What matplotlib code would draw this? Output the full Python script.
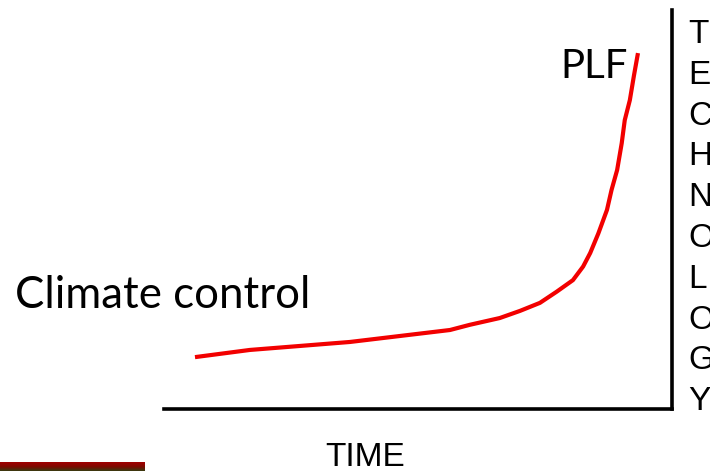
import matplotlib
matplotlib.use("Agg")
import matplotlib.pyplot as plt
import numpy as np
from matplotlib.colors import LinearSegmentedColormap

# curve (time vs. technology, 0-100 scale)
time_vals = [6.1, 16.9, 36.6, 56.3, 60.2, 66.1, 70.1, 74.0, 77.3, 80.5, 82.5, 83.9,
             85.5, 87.2, 88.1, 89.2, 90.1, 90.7, 91.7, 92.5, 93.3]
tech_vals = [13.0, 14.8, 16.8, 19.8, 21.1, 22.8, 24.6, 26.6, 29.4, 32.3, 35.7, 39.1,
             44.0, 49.9, 54.9, 59.9, 66.6, 72.4, 77.4, 83.5, 89.2]
side_letters = list("TECHNOLOGY")

W, H = 710, 471
fig = plt.figure(figsize=(W / 100, H / 100), dpi=100)


def fx(px):
    return px / W


def fy(py):
    return 1 - py / H


ax = fig.add_axes([fx(164), fy(409), (672 - 164) / W, (409 - 10) / H])
ax.plot(time_vals, tech_vals, color="#f20000", linewidth=3,
        solid_capstyle="butt", solid_joinstyle="round")
ax.set_xlim(0, 100)
ax.set_ylim(0, 100)
ax.set_xticks([])
ax.set_yticks([])
for side in ["left", "top"]:
    ax.spines[side].set_visible(False)
for side in ["bottom", "right"]:
    ax.spines[side].set_linewidth(2.6)
    ax.spines[side].set_color("black")
    ax.spines[side].set_capstyle("projecting")

calibri_like = ["Lato", "DejaVu Sans"]
arial_like = ["Liberation Sans", "DejaVu Sans"]

fig.text(fx(15), fy(308), "Climate control", family=calibri_like, fontsize=31.5,
         va="baseline", ha="left")
fig.text(fx(560), fy(78), "PLF", family=calibri_like, fontsize=29,
         va="baseline", ha="left")
fig.text(fx(325), fy(466), "TIME", family=arial_like, fontsize=24,
         va="baseline", ha="left")

for i, letter in enumerate(side_letters):
    fig.text(fx(688), fy(43 + 40.8 * i), letter, family=arial_like, fontsize=24,
             va="baseline", ha="left")

# decorative bar bottom-left
bar_ax = fig.add_axes([0, 0, 145 / W, 9 / H])
cmap = LinearSegmentedColormap.from_list("bar", ["#a00000", "#800800", "#3a3a10"])
bar_ax.imshow(np.linspace(0, 1, 20).reshape(-1, 1), cmap=cmap, aspect="auto")
bar_ax.axis("off")

fig.savefig("out.png", dpi=100)
